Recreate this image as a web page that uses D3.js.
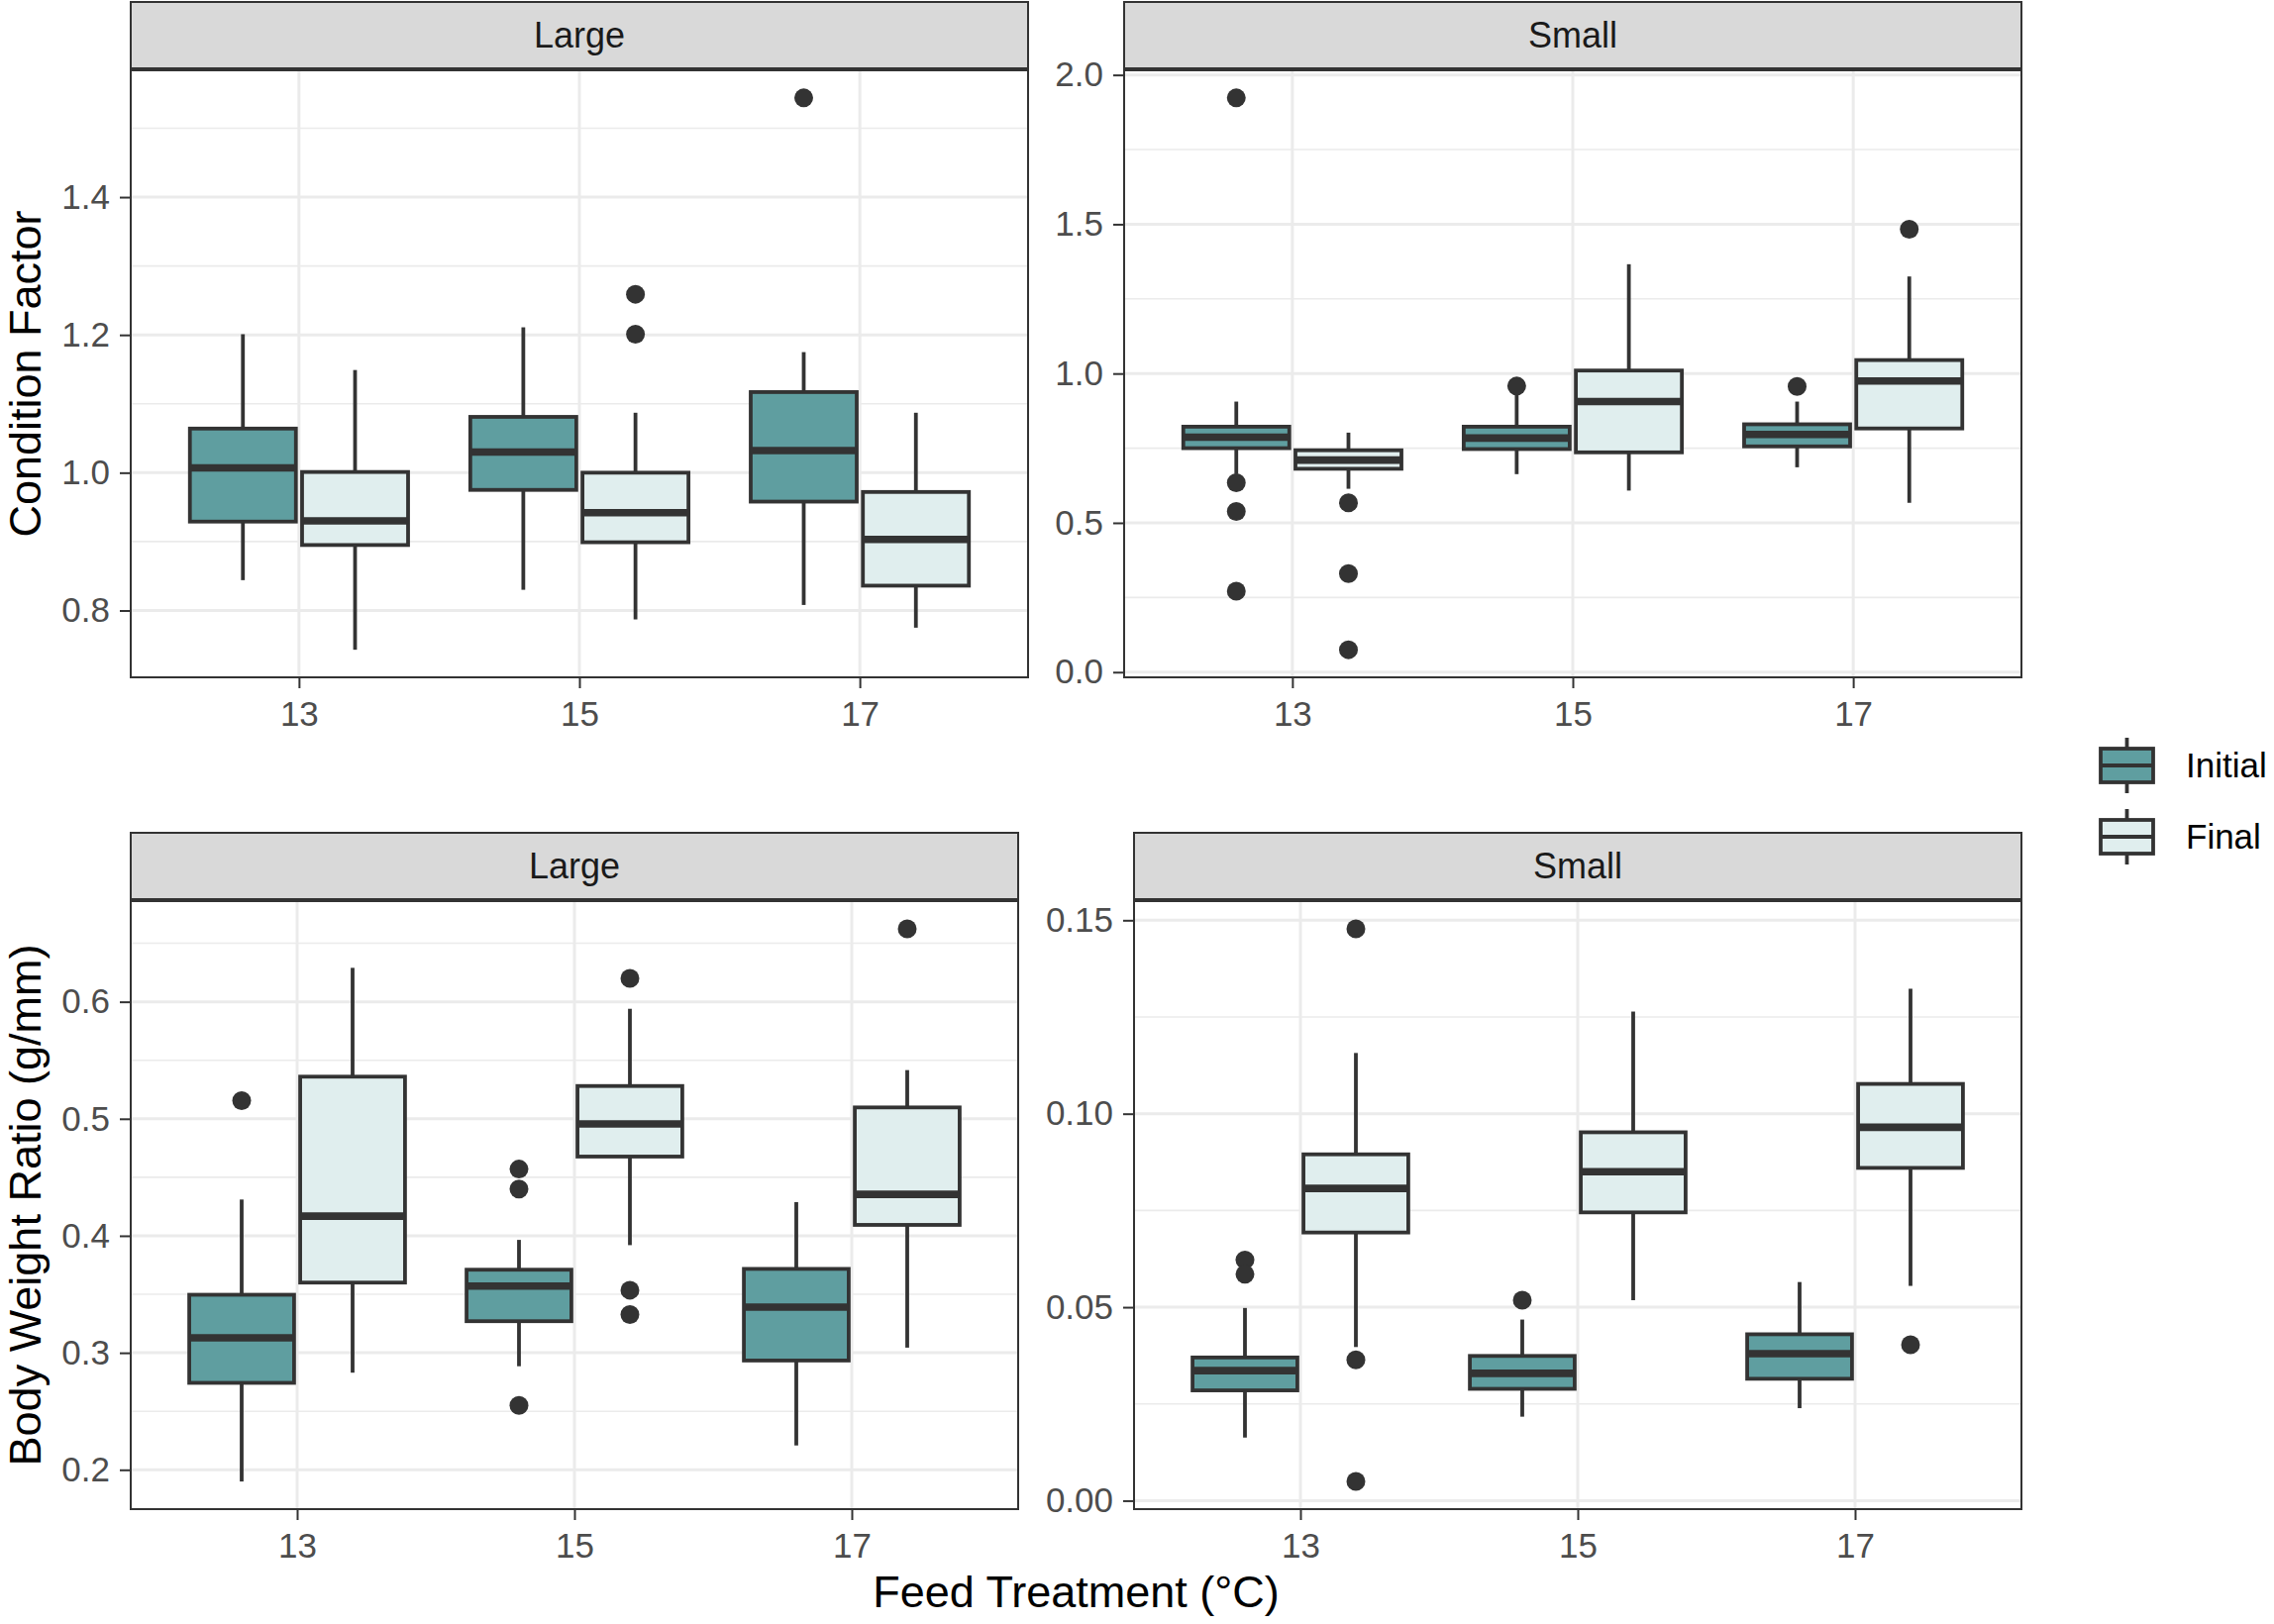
<!DOCTYPE html>
<html><head><meta charset="utf-8">
<script src="https://cdn.jsdelivr.net/npm/d3@7"></script>
<style>
body{margin:0;background:#fff}
svg{display:block}
text{font-family:"Liberation Sans",Arial,Helvetica,sans-serif}
</style>
</head><body>
<svg id="chart" width="2296" height="1640"></svg>
<script>
// ---------- DATA ----------
const temps = ["13", "15", "17"];
const phases = ["Initial", "Final"];
const sizes = ["Large", "Small"];

// five-number summaries: [lower whisker, Q1, median, Q3, upper whisker], one per temperature
const cfLargeInitial = [[0.844, 0.929, 1.007, 1.064, 1.201], [0.830, 0.975, 1.030, 1.081, 1.211], [0.808, 0.958, 1.032, 1.117, 1.175]];
const cfLargeFinal   = [[0.743, 0.895, 0.930, 1.001, 1.149], [0.787, 0.899, 0.942, 1.000, 1.087], [0.775, 0.836, 0.903, 0.972, 1.087]];
const cfLargeInitialOut = [[], [], [1.544]];
const cfLargeFinalOut   = [[], [1.201, 1.259], []];

const cfSmallInitial = [[0.663, 0.750, 0.787, 0.822, 0.906], [0.663, 0.747, 0.784, 0.822, 0.928], [0.686, 0.756, 0.796, 0.830, 0.906]];
const cfSmallFinal   = [[0.614, 0.681, 0.710, 0.743, 0.802], [0.608, 0.736, 0.906, 1.010, 1.366], [0.567, 0.816, 0.975, 1.045, 1.325]];
const cfSmallInitialOut = [[1.923, 0.634, 0.538, 0.271], [0.958], [0.957]];
const cfSmallFinalOut   = [[0.567, 0.330, 0.075], [], [1.483]];

const bwLargeInitial = [[0.190, 0.2743, 0.3128, 0.3496, 0.431], [0.2885, 0.327, 0.357, 0.371, 0.3965], [0.2208, 0.2934, 0.339, 0.3717, 0.4288]];
const bwLargeFinal   = [[0.283, 0.360, 0.4168, 0.536, 0.629], [0.392, 0.4677, 0.4956, 0.528, 0.594], [0.3044, 0.4093, 0.4354, 0.5097, 0.5416]];
const bwLargeInitialOut = [[0.5155], [0.457, 0.440, 0.255], []];
const bwLargeFinalOut   = [[], [0.620, 0.3535, 0.3327], [0.6624]];

const bwSmallInitial = [[0.0163, 0.0285, 0.0336, 0.0370, 0.0498], [0.0217, 0.0289, 0.0329, 0.0374, 0.0468], [0.0239, 0.0315, 0.0380, 0.0430, 0.0565]];
const bwSmallFinal   = [[0.0397, 0.0693, 0.0807, 0.0895, 0.1157], [0.0518, 0.0745, 0.0850, 0.0952, 0.1264], [0.0555, 0.0860, 0.0965, 0.1077, 0.1323]];
const bwSmallInitialOut = [[0.0622, 0.0585], [0.0518], []];
const bwSmallFinalOut   = [[0.1478, 0.0364, 0.00495], [], [0.0403]];

// tick values and labels
const cfLargeTicks = [0.8, 1.0, 1.2, 1.4];
const cfLargeTickLabels = ["0.8", "1.0", "1.2", "1.4"];
const cfSmallTicks = [0.0, 0.5, 1.0, 1.5, 2.0];
const cfSmallTickLabels = ["0.0", "0.5", "1.0", "1.5", "2.0"];
const bwLargeTicks = [0.2, 0.3, 0.4, 0.5, 0.6];
const bwLargeTickLabels = ["0.2", "0.3", "0.4", "0.5", "0.6"];
const bwSmallTicks = [0.00, 0.05, 0.10, 0.15];
const bwSmallTickLabels = ["0.00", "0.05", "0.10", "0.15"];

const yTitles = ["Condition Factor", "Body Weight Ratio (g/mm)"];
const xTitle = "Feed Treatment (°C)";

// ---------- STYLE / LAYOUT ----------
const fills = { Initial: "#5F9EA0", Final: "#E0EEEE" };
const ink = "#333333";
const gridCol = "#EBEBEB";
const boxLW = 3.8, medLW = 7.6, ptR = 9.5;
const smallFont = 35, titleFont = 45;

const panels = [
  { x0: 132, x1: 1038, st: 2, sb: 69, y0: 71, y1: 684, label: sizes[0],
    stats: { Initial: cfLargeInitial, Final: cfLargeFinal }, outs: { Initial: cfLargeInitialOut, Final: cfLargeFinalOut },
    ticks: cfLargeTicks, tickLabels: cfLargeTickLabels },
  { x0: 1135, x1: 2041, st: 2, sb: 69, y0: 71, y1: 684, label: sizes[1],
    stats: { Initial: cfSmallInitial, Final: cfSmallFinal }, outs: { Initial: cfSmallInitialOut, Final: cfSmallFinalOut },
    ticks: cfSmallTicks, tickLabels: cfSmallTickLabels },
  { x0: 132, x1: 1028, st: 841, sb: 908, y0: 910, y1: 1524, label: sizes[0],
    stats: { Initial: bwLargeInitial, Final: bwLargeFinal }, outs: { Initial: bwLargeInitialOut, Final: bwLargeFinalOut },
    ticks: bwLargeTicks, tickLabels: bwLargeTickLabels },
  { x0: 1145, x1: 2041, st: 841, sb: 908, y0: 910, y1: 1524, label: sizes[1],
    stats: { Initial: bwSmallInitial, Final: bwSmallFinal }, outs: { Initial: bwSmallInitialOut, Final: bwSmallFinalOut },
    ticks: bwSmallTicks, tickLabels: bwSmallTickLabels }
];

const svg = d3.select("#chart");
svg.append("rect").attr("width", 2296).attr("height", 1640).attr("fill", "#fff");

function drawPanel(p) {
  const g = svg.append("g");
  const all = [];
  phases.forEach(ph => {
    p.stats[ph].forEach(s => all.push(s[0], s[4]));
    p.outs[ph].forEach(o => o.forEach(v => all.push(v)));
  });
  const lo = d3.min(all), hi = d3.max(all), pad = (hi - lo) * 0.05;
  const y = d3.scaleLinear().domain([lo - pad, hi + pad]).range([p.y1, p.y0]);
  const x = d3.scalePoint().domain(temps).range([p.x0, p.x1]).padding(0.6);
  const step = x.step();

  g.append("rect").attr("x", p.x0).attr("y", p.y0).attr("width", p.x1 - p.x0).attr("height", p.y1 - p.y0).attr("fill", "#fff");

  // minor grid
  const t = p.ticks, d = t[1] - t[0];
  const minors = [t[0] - d / 2].concat(t.map(v => v + d / 2)).filter(v => v > y.domain()[0] && v < y.domain()[1]);
  g.selectAll(".minor").data(minors).join("line")
    .attr("x1", p.x0).attr("x2", p.x1).attr("y1", v => y(v)).attr("y2", v => y(v))
    .attr("stroke", gridCol).attr("stroke-width", 1.6);
  // major grid
  g.selectAll(".majorY").data(t).join("line")
    .attr("x1", p.x0).attr("x2", p.x1).attr("y1", v => y(v)).attr("y2", v => y(v))
    .attr("stroke", gridCol).attr("stroke-width", 3);
  g.selectAll(".majorX").data(temps).join("line")
    .attr("x1", v => x(v)).attr("x2", v => x(v)).attr("y1", p.y0).attr("y2", p.y1)
    .attr("stroke", gridCol).attr("stroke-width", 3);

  // boxes
  const bw = 0.378 * step;
  phases.forEach((ph, k) => {
    const off = (k === 0 ? -0.2 : 0.2) * step;
    temps.forEach((tt, i) => {
      const s = p.stats[ph][i];
      const cx = x(tt) + off;
      const bg = g.append("g");
      bg.append("line").attr("x1", cx).attr("x2", cx).attr("y1", y(s[3])).attr("y2", y(s[4]))
        .attr("stroke", ink).attr("stroke-width", boxLW);
      bg.append("line").attr("x1", cx).attr("x2", cx).attr("y1", y(s[0])).attr("y2", y(s[1]))
        .attr("stroke", ink).attr("stroke-width", boxLW);
      bg.append("rect").attr("x", cx - bw / 2).attr("y", y(s[3])).attr("width", bw).attr("height", y(s[1]) - y(s[3]))
        .attr("fill", fills[ph]).attr("stroke", ink).attr("stroke-width", boxLW);
      bg.append("line").attr("x1", cx - bw / 2).attr("x2", cx + bw / 2).attr("y1", y(s[2])).attr("y2", y(s[2]))
        .attr("stroke", ink).attr("stroke-width", medLW);
      bg.selectAll("circle").data(p.outs[ph][i]).join("circle")
        .attr("cx", cx).attr("cy", v => y(v)).attr("r", ptR).attr("fill", ink);
    });
  });

  // panel border
  g.append("rect").attr("x", p.x0).attr("y", p.y0).attr("width", p.x1 - p.x0).attr("height", p.y1 - p.y0)
    .attr("fill", "none").attr("stroke", ink).attr("stroke-width", 2);
  // strip
  g.append("rect").attr("x", p.x0).attr("y", p.st).attr("width", p.x1 - p.x0).attr("height", p.sb - p.st)
    .attr("fill", "#D9D9D9").attr("stroke", ink).attr("stroke-width", 2);
  g.append("text").attr("x", (p.x0 + p.x1) / 2).attr("y", (p.st + p.sb) / 2).attr("dy", "0.35em")
    .attr("text-anchor", "middle").attr("font-size", 36).attr("fill", "#1A1A1A").text(p.label);

  // axes
  const ax = g.append("g").attr("transform", `translate(${p.x0},0)`)
    .call(d3.axisLeft(y).tickValues(p.ticks).tickFormat((v, i) => p.tickLabels[i]).tickSize(11).tickPadding(10));
  const bx = g.append("g").attr("transform", `translate(0,${p.y1})`)
    .call(d3.axisBottom(x).tickSize(11).tickPadding(13));
  [ax, bx].forEach(a => {
    a.select(".domain").remove();
    a.selectAll(".tick line").attr("stroke", ink).attr("stroke-width", 2);
    a.selectAll(".tick text").attr("fill", "#4D4D4D").attr("font-size", smallFont)
      .attr("font-family", '"Liberation Sans",Arial,Helvetica,sans-serif');
  });
}
panels.forEach(drawPanel);

// axis titles
svg.append("text").attr("transform", `translate(41,${(71 + 684) / 2}) rotate(-90)`)
  .attr("text-anchor", "middle").attr("font-size", titleFont).attr("fill", "#000").text(yTitles[0]);
svg.append("text").attr("transform", `translate(41,${(910 + 1524) / 2}) rotate(-90)`)
  .attr("text-anchor", "middle").attr("font-size", titleFont).attr("fill", "#000").text(yTitles[1]);
svg.append("text").attr("x", (132 + 2041) / 2).attr("y", 1623)
  .attr("text-anchor", "middle").attr("font-size", titleFont).attr("fill", "#000").text(xTitle);

// legend
const legY = d3.scalePoint().domain(phases).range([773, 845]);
const kx = 2147.5;
phases.forEach(ph => {
  const cy = legY(ph);
  const lg = svg.append("g");
  lg.append("line").attr("x1", kx).attr("x2", kx).attr("y1", cy - 28).attr("y2", cy + 28)
    .attr("stroke", ink).attr("stroke-width", boxLW);
  lg.append("rect").attr("x", kx - 26.5).attr("y", cy - 17).attr("width", 53).attr("height", 34)
    .attr("fill", fills[ph]).attr("stroke", ink).attr("stroke-width", boxLW);
  lg.append("line").attr("x1", kx - 26.5).attr("x2", kx + 26.5).attr("y1", cy).attr("y2", cy)
    .attr("stroke", ink).attr("stroke-width", boxLW);
  lg.append("text").attr("x", 2207).attr("y", cy).attr("dy", "0.35em")
    .attr("font-size", smallFont).attr("fill", "#000").text(ph);
});
</script>
</body></html>
